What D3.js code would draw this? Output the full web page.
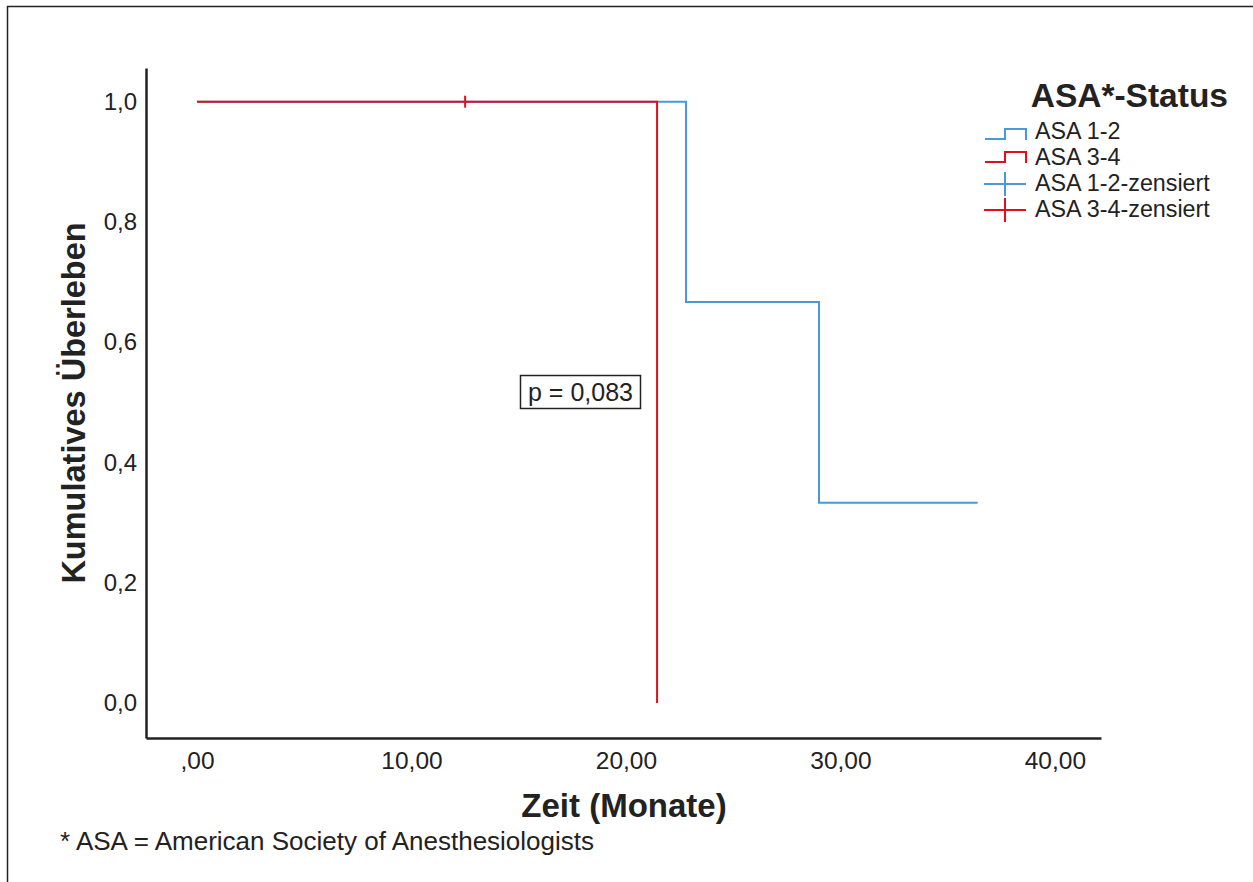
<!DOCTYPE html>
<html>
<head>
<meta charset="utf-8">
<script src="https://cdn.jsdelivr.net/npm/d3@7"></script>
<style>
  html, body { margin: 0; padding: 0; background: #fff; }
  svg { display: block; font-family: "Liberation Sans", Arial, sans-serif; }
</style>
</head>
<body>
<svg id="chart" width="1253" height="882"></svg>
<script>
// Kaplan-Meier Kurven (Zeit in Monaten, kumulatives Überleben)
const groups = ["ASA 1-2", "ASA 3-4"];
const colors = ["#4a98d8", "#e0101a"];
const asa12Steps = [[0, 1.0], [22.8, 0.667], [29.0, 0.333], [36.4, 0.333]];
const asa34Steps = [[0, 1.0], [21.45, 0.0]];
const asa12Censored = [];
const asa34Censored = [[12.5, 1.0]];
const xTicks = [0, 10, 20, 30, 40];
const yTicks = [0, 0.2, 0.4, 0.6, 0.8, 1.0];
const legendLabels = ["ASA 1-2", "ASA 3-4", "ASA 1-2-zensiert", "ASA 3-4-zensiert"];
const pValue = "p = 0,083";

const svg = d3.select("#chart");

// Rahmen (nur oben und links sichtbar)
svg.append("line").attr("x1", 7).attr("x2", 1253).attr("y1", 6.5).attr("y2", 6.5)
  .attr("stroke", "#222").attr("stroke-width", 1.5);
svg.append("line").attr("x1", 7.5).attr("x2", 7.5).attr("y1", 6).attr("y2", 882)
  .attr("stroke", "#222").attr("stroke-width", 1.5);

const x = d3.scaleLinear().domain([-2.38, 42.15]).range([146, 1101]);
const y = d3.scaleLinear().domain([-0.058, 1.056]).range([738, 68]);

// Achsen ohne Ticks
const xAxis = svg.append("g").attr("transform", "translate(0,738)")
  .call(d3.axisBottom(x).tickValues(xTicks).tickSize(0).tickPadding(14)
    .tickFormat(d => d === 0 ? ",00" : d3.format(".2f")(d).replace(".", ",")));
const yAxis = svg.append("g").attr("transform", "translate(146,0)")
  .call(d3.axisLeft(y).tickValues(yTicks).tickSize(0).tickPadding(9)
    .tickFormat(d => d3.format(".1f")(d).replace(".", ",")));

[xAxis, yAxis].forEach(a => {
  a.select(".domain").attr("stroke", "#222").attr("stroke-width", 2.5);
  a.selectAll("text").attr("fill", "#222")
    .attr("font-family", "'Liberation Sans', Arial, sans-serif");
});
xAxis.selectAll("text").attr("font-size", 24.5);
yAxis.selectAll("text").attr("font-size", 24);

// Achsentitel
svg.append("text").attr("x", 624).attr("y", 817).attr("text-anchor", "middle")
  .attr("font-size", 33).attr("font-weight", "bold").attr("fill", "#222")
  .text("Zeit (Monate)");
svg.append("text").attr("transform", "translate(85,403) rotate(-90)")
  .attr("text-anchor", "middle").attr("font-size", 32.5).attr("font-weight", "bold")
  .attr("fill", "#222").text("Kumulatives Überleben");

// Stufenkurven
const line = d3.line().x(d => x(d[0])).y(d => y(d[1])).curve(d3.curveStepAfter);
svg.append("path").datum(asa12Steps).attr("d", line)
  .attr("fill", "none").attr("stroke", colors[0]).attr("stroke-width", 2);
svg.append("path").datum(asa34Steps).attr("d", line)
  .attr("fill", "none").attr("stroke", colors[1]).attr("stroke-width", 2);

// Zensierte Fälle
const censor = (data, color) => {
  svg.selectAll(null).data(data).enter().append("line")
    .attr("x1", d => x(d[0])).attr("x2", d => x(d[0]))
    .attr("y1", d => y(d[1]) - 6).attr("y2", d => y(d[1]) + 6)
    .attr("stroke", color).attr("stroke-width", 2);
};
censor(asa12Censored, colors[0]);
censor(asa34Censored, colors[1]);

// p-Wert Box
const pBox = svg.append("g");
pBox.append("rect").attr("x", 520.5).attr("y", 375.5).attr("width", 120).attr("height", 33)
  .attr("fill", "#fff").attr("stroke", "#222").attr("stroke-width", 1.5);
pBox.append("text").attr("x", 580.5).attr("y", 401).attr("text-anchor", "middle")
  .attr("font-size", 25).attr("fill", "#222").text(pValue);

// Legende
const legend = svg.append("g");
legend.append("text").attr("x", 1228).attr("y", 107).attr("text-anchor", "end")
  .attr("font-size", 33.5).attr("font-weight", "bold").attr("fill", "#222").text("ASA*-Status");
legendLabels.forEach((lab, i) => {
  const base = 139 + i * 26;
  const c = colors[i % 2];
  if (i < 2) {
    const low = base - i * 3;
    legend.append("path")
      .attr("d", `M985,${low} H1005 V${low - 10} H1026 V${low + 1}`)
      .attr("fill", "none").attr("stroke", c).attr("stroke-width", 2);
  } else {
    const cy = base - 7;
    legend.append("line").attr("x1", 984).attr("x2", 1026).attr("y1", cy).attr("y2", cy)
      .attr("stroke", c).attr("stroke-width", 2);
    legend.append("line").attr("x1", 1005).attr("x2", 1005).attr("y1", cy - 12).attr("y2", cy + 12)
      .attr("stroke", c).attr("stroke-width", 2);
  }
  legend.append("text").attr("x", 1035).attr("y", base)
    .attr("font-size", 23.3).attr("fill", "#222").text(lab);
});

// Fußnote
svg.append("text").attr("x", 60).attr("y", 850).attr("font-size", 26).attr("fill", "#222")
  .text("* ASA = American Society of Anesthesiologists");
</script>
</body>
</html>
